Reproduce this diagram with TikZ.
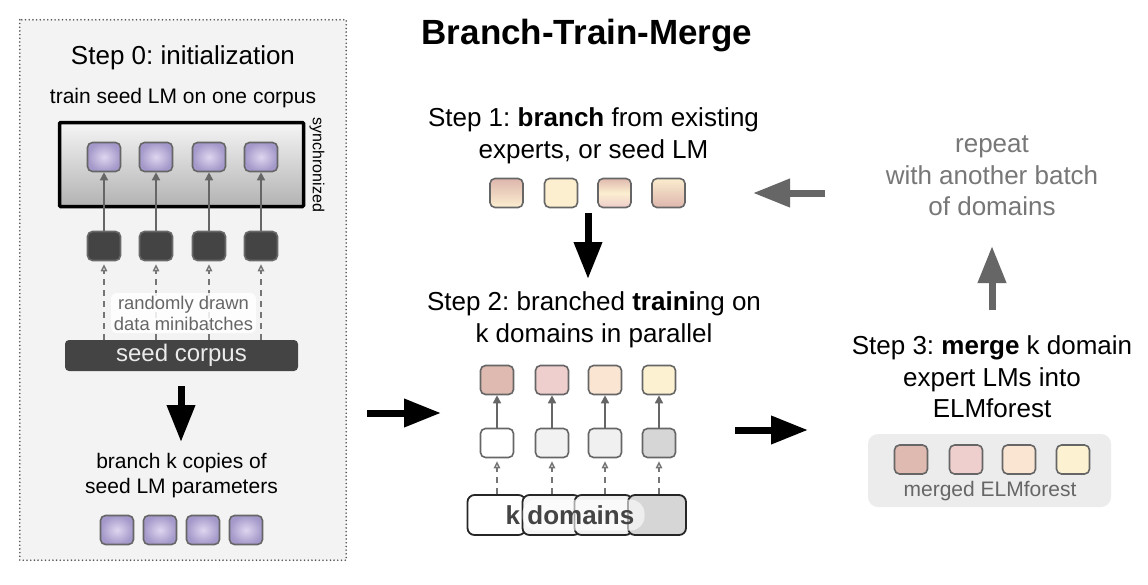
\documentclass[tikz,border=0pt]{standalone}
\usepackage{fontspec}
\setmainfont{Liberation Sans}
\usetikzlibrary{arrows.meta,calc}
\definecolor{panelfill}{HTML}{F3F3F3}
\definecolor{paneldots}{HTML}{555555}
\definecolor{sqborder}{HTML}{666666}
\definecolor{darkfill}{HTML}{444444}
\definecolor{purpin}{HTML}{DDD6EF}
\definecolor{purpout}{HTML}{A398C9}
\definecolor{cA}{HTML}{DFBAB0}
\definecolor{cB}{HTML}{EFCFCE}
\definecolor{cC}{HTML}{F9E5D2}
\definecolor{cD}{HTML}{FCF2D1}
\definecolor{cream}{HTML}{FCEFD0}
\definecolor{rose}{HTML}{DDB6AD}
\definecolor{grayarrow}{HTML}{666666}
\definecolor{graytext}{HTML}{777777}
\definecolor{labeltext}{HTML}{666666}
\definecolor{mergefill}{HTML}{ECECEC}
\frenchspacing
\begin{document}
\begin{tikzpicture}[x=1pt,y=-1pt,
  sq/.style={rectangle, rounded corners=5pt, minimum width=33pt, minimum height=29pt,
             inner sep=0pt, draw=sqborder, line width=1.6pt},
  purp/.style={sq, inner color=purpin, outer color=purpout},
  darksq/.style={sq, fill=darkfill, draw=darkfill!80!white},
  garrow/.style={draw=grayarrow, line width=1.6pt, -{Triangle[length=8pt,width=8pt]}},
  dasharrow/.style={draw=grayarrow!90!white, line width=1.4pt, dash pattern=on 6pt off 5pt,
             shorten >=3pt, -{Triangle[open,length=7pt,width=6.5pt,fill=white]}},
  bigarrow/.style={draw=black, line width=7pt, -{Triangle[length=37pt,width=27pt]}},
  biggray/.style={draw=grayarrow, line width=7pt, -{Triangle[length=37pt,width=27pt]}},
  stepfont/.style={font=\fontsize{26}{31.5}\selectfont, align=center, inner sep=0pt},
  midfont/.style={font=\fontsize{21}{25}\selectfont, align=center, inner sep=0pt},
  seg/.style={rectangle, rounded corners=7pt, draw=black!85, line width=1.8pt,
             minimum width=58pt, minimum height=40pt, inner sep=0pt}
]
\fill[white] (0,0) rectangle (1148,584);
\useasboundingbox (0,0) rectangle (1148,584);

% ---------- Step 0 panel ----------
\node[rectangle, fill=panelfill, minimum width=326pt, minimum height=540pt,
      inner sep=0pt] (panel) at (183,290) {};
\draw[paneldots, line width=1.8pt, line cap=round, dash pattern=on 0pt off 3.7pt]
  (panel.north west) rectangle (panel.south east);
\node[stepfont] (s0title) at (183,58) {Step 0: initialization};
\node[midfont] (s0sub) at (183,98) {train seed LM on one corpus};

\node[rectangle, draw=black, line width=3.5pt, rounded corners=1pt,
      top color=white!96!black, bottom color=black!30,
      minimum width=244pt, minimum height=84pt] (sync) at (181.5,164.5) {};
\node[font=\fontsize{16}{16}\selectfont, rotate=-90, inner sep=0pt] (synclabel) at (317,165) {synchronized};

\foreach \i/\x in {1/104,2/156,3/209,4/261}{
  \node[purp] (p\i) at (\x,157) {};
  \node[darksq] (d\i) at (\x,246) {};
}
\node[rectangle, rounded corners=4pt, fill=darkfill, minimum width=233pt, minimum height=31pt,
      inner sep=0pt, text=white!92!black, font=\fontsize{24}{24}\selectfont] (seed) at (181.5,355.5) {seed corpus};

\foreach \i in {1,...,4}{
  \draw[dasharrow] (d\i |- seed.north) -- (d\i.south);
  \draw[garrow] (d\i.north) -- (p\i.south);
}
\node[rectangle, rounded corners=6pt, fill=white, fill opacity=0.85, text opacity=1,
      text=labeltext, font=\fontsize{18.4}{21}\selectfont, align=center,
      minimum width=145pt, minimum height=40pt, inner sep=0pt] (rdm) at (183.5,313)
      {randomly drawn\\data minibatches};

\coordinate (a0top) at (181,386);
\coordinate (a0tip) at (181,442);
\draw[bigarrow] (a0top) -- (a0tip);

\node[midfont] (brtxt) at (181.5,476) {branch k copies of\\seed LM parameters};
\foreach \i/\x in {1/117,2/160,3/203,4/246}{
  \node[purp] (b\i) at (\x,530) {};
}

% ---------- title ----------
\node[font=\fontsize{35}{35}\selectfont\bfseries, inner sep=0pt] (title) at (587,36) {Branch-Train-Merge};

% ---------- Step 1 ----------
\node[stepfont] (s1txt) at (593.5,136) {Step 1: \textbf{branch} from existing\\experts, or seed LM};
\node[sq, top color=rose, bottom color=cream] (e1) at (506.5,193) {};
\node[sq, fill=cream] (e2) at (561,193) {};
\node[sq, top color=rose!95!cream, bottom color=cB!90!rose, middle color=cream] (e3) at (614.5,193) {};
\node[sq, top color=cream!95!rose, bottom color=rose] (e4) at (668.5,193) {};
\coordinate (a1top) at (588,213);
\coordinate (a1tip) at (588,279);
\draw[bigarrow] (a1top) -- (a1tip);

% ---------- Step 2 ----------
\node[stepfont] (s2txt) at (594,320) {Step 2: branched \textbf{traini}ng on\\k domains in parallel};
\foreach \i/\x/\c/\g in {1/497/cA/white,2/552/cB/black!5,3/605/cC/black!6,4/659/cD/black!16}{
  \node[sq, fill=\c] (t\i) at (\x,380) {};
  \node[sq, fill=\g] (m\i) at (\x,443) {};
}
\node[seg, fill=white] (k1) at (496.5,515) {};
\node[seg, fill=black!4] (k2) at (551.5,515) {};
\node[seg, fill=black!6] (k3) at (603.5,515) {};
\node[seg, fill=black!16] (k4) at (657,515) {};
\node[rectangle, rounded corners=14pt, fill=white, fill opacity=0.6,
      minimum width=122pt, minimum height=31pt, inner sep=0pt] (khl) at (583.5,515) {};
\node[font=\fontsize{26}{26}\selectfont\bfseries, text=darkfill, inner sep=0pt] (ktxt) at (570,515) {k domains};
\foreach \i in {1,...,4}{
  \draw[dasharrow] (m\i |- k1.north) -- (m\i.south);
  \draw[garrow] (m\i.north) -- (t\i.south);
}

% ---------- connectors between steps ----------
\coordinate (a2from) at (367,413);
\coordinate (a2to) at (441,413);
\draw[bigarrow] (a2from) -- (a2to);
\coordinate (a3from) at (735,430);
\coordinate (a3to) at (808,430);
\draw[bigarrow] (a3from) -- (a3to);

% ---------- Step 3 ----------
\node[stepfont] (s3txt) at (992,377) {Step 3: \textbf{merge} k domain\\expert LMs into\\ELMforest};
\node[rectangle, rounded corners=10pt, fill=mergefill, minimum width=243pt,
      minimum height=73pt, inner sep=0pt] (mbox) at (989.5,470.5) {};
\foreach \i/\x/\c in {1/911/cA,2/966/cB,3/1019/cC,4/1073/cD}{
  \node[sq, fill=\c] (f\i) at (\x,459.5) {};
}
\node[midfont, text=labeltext] (mlabel) at (990,491) {merged ELMforest};

% ---------- repeat ----------
\node[stepfont, text=graytext] (rep) at (992,176) {repeat\\with another batch\\of domains};
\coordinate (a4from) at (992,310);
\coordinate (a4to) at (992,246);
\draw[biggray] (a4from) -- (a4to);
\coordinate (a5from) at (825,193);
\coordinate (a5to) at (753,193);
\draw[biggray] (a5from) -- (a5to);
\end{tikzpicture}
\end{document}
